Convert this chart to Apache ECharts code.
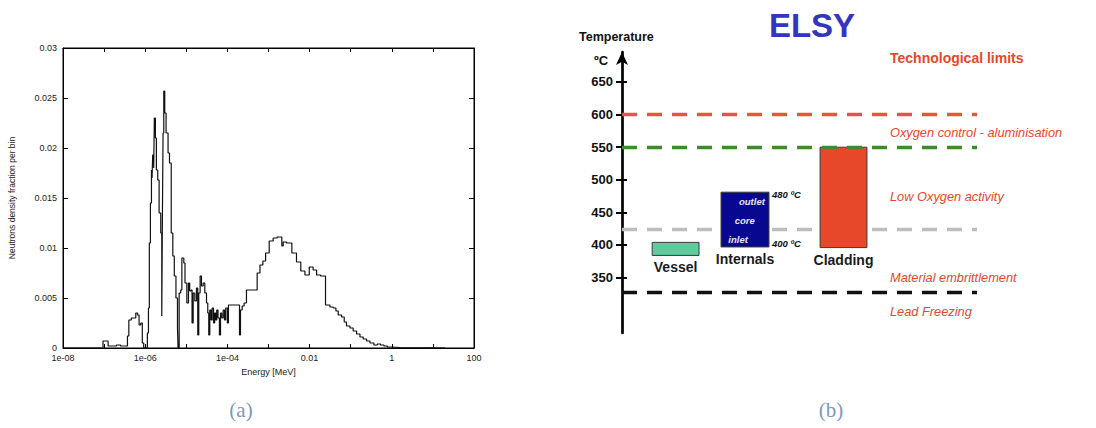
<!DOCTYPE html>
<html>
<head>
<meta charset="utf-8">
<script src="https://cdn.jsdelivr.net/npm/echarts@6/dist/echarts.min.js"></script>
<style>
html,body{margin:0;padding:0;background:#fff;}
#chart{width:1096px;height:428px;}
</style>
</head>
<body>
<div id="chart"></div>
<script>
// ---------- Panel (a): neutron spectrum (step histogram) ----------
const energyMeV = [1e-8, 9.4e-8, 1.25e-7, 2.0e-7, 2.5e-7, 3.7e-7, 4.0e-7, 4.6e-7, 5.9e-7, 6.5e-7, 7.1e-7, 7.8e-7, 8.5e-7, 9.2e-7,
  1.13e-6, 1.2e-6, 1.26e-6, 1.34e-6, 1.42e-6, 1.47e-6, 1.52e-6, 1.61e-6, 1.67e-6, 1.77e-6, 1.87e-6, 2.02e-6, 2.18e-6, 2.39e-6, 2.53e-6, 2.63e-6,
  2.72e-6, 2.83e-6, 2.99e-6, 3.22e-6, 3.6e-6, 3.9e-6, 4.3e-6, 4.7e-6, 5.1e-6, 5.6e-6, 6.1e-6, 6.3e-6, 6.7e-6, 7.3e-6, 7.8e-6, 8.7e-6, 9.3e-6,
  1.03e-5, 1.13e-5, 1.21e-5, 1.31e-5, 1.38e-5, 1.47e-5, 1.61e-5, 1.77e-5, 1.9e-5, 2.01e-5, 2.17e-5, 2.34e-5, 2.57e-5, 2.82e-5, 3.1e-5, 3.33e-5,
  3.52e-5, 3.73e-5, 4.0e-5, 4.25e-5, 4.6e-5, 4.9e-5, 5.2e-5, 5.5e-5, 5.9e-5, 6.4e-5, 6.8e-5, 7.3e-5, 7.9e-5, 8.5e-5, 9.1e-5, 1.0e-4, 1.06e-4,
  1.38e-4, 1.86e-4, 1.97e-4, 2.08e-4, 2.29e-4, 2.55e-4, 2.91e-4, 3.86e-4, 5.3e-4, 6.2e-4, 7.3e-4, 8.5e-4, 1.04e-3, 1.3e-3, 1.63e-3, 2.11e-3,
  2.28e-3, 2.74e-3, 3.7e-3, 4.8e-3, 6.1e-3, 7.7e-3, 9.8e-3, 1.22e-2, 1.48e-2, 1.85e-2, 2.44e-2, 3.12e-2, 3.76e-2, 4.37e-2, 4.97e-2, 6.0e-2,
  6.96e-2, 7.9e-2, 9.6e-2, 0.115, 0.139, 0.168, 0.202, 0.243, 0.294, 0.367, 0.443, 0.533, 0.643, 0.776, 0.99, 1.58, 10, 20];
const densityFraction = [0, 0.0007, 0.0002, 0.0003, 0.0002, 0.0012, 0.0028, 0.003, 0.0035, 0.0033, 0.0023, 0.0025, 0.0005, 0,
  0.0015, 0.004, 0.0105, 0.0145, 0.0178, 0.017, 0.0193, 0.018, 0.023, 0.021, 0.0178, 0.0168, 0.0135, 0.0115, 0.0032, 0.0138,
  0.0215, 0.0257, 0.0235, 0.0215, 0.0195, 0.0185, 0.0115, 0.0092, 0.0072, 0.005, 0.002, 0, 0.0055, 0.0058, 0.009, 0.0085, 0.0065,
  0.0045, 0.0065, 0.0057, 0.0058, 0.0025, 0.0055, 0.0047, 0.006, 0.0013, 0.0055, 0.0072, 0.0062, 0.0065, 0.0055, 0.0045, 0.0035,
  0.0013, 0.0038, 0.0028, 0.004, 0.0025, 0.0035, 0.0028, 0.0038, 0.003, 0.0013, 0.0035, 0.003, 0.0038, 0.0028, 0.004, 0.0025, 0.0043,
  0.0043, 0.0043, 0.0013, 0.0038, 0.0042, 0.0045, 0.0058, 0.0058, 0.0075, 0.0083, 0.0087, 0.0095, 0.0107, 0.011, 0.0111, 0.0102,
  0.0106, 0.0105, 0.0095, 0.0086, 0.0077, 0.0073, 0.0081, 0.0078, 0.0073, 0.0072, 0.0043, 0.0041, 0.004, 0.0037, 0.0033, 0.0031,
  0.0026, 0.0022, 0.002, 0.0017, 0.0014, 0.0011, 0.0009, 0.0007, 0.0005, 0.0003, 0.0004, 0.0003, 0.0002, 0.0001, 0.00005, 0.00002, 0, 0];
const xTickExp = [-8, -6, -4, -2, 0, 2];
const xTickText = ['1e-08', '1e-06', '1e-04', '0.01', '1', '100'];
const yTickText = ['0', '0.005', '0.01', '0.015', '0.02', '0.025', '0.03'];

// ---------- Panel (b): ELSY temperature diagram ----------
const components = ['Vessel', 'Internals', 'Cladding'];
const tempLow = [384, 397, 396];
const tempHigh = [404, 481, 550];
const internalsTags = ['outlet', 'core', 'inlet'];
const internalsRangeText = ['480 ºC', '400 ºC'];
const limitTemps = [600, 550, 424, 328];
const tempTicks = [350, 400, 450, 500, 550, 600, 650];
const limitTexts = ['Technological limits', 'Oxygen control - aluminisation', 'Low Oxygen activity', 'Material embrittlement', 'Lead Freezing'];

// ---------- layout / style ----------
const barColors = ['#5ecb9c', '#07078f', '#e8482a'];
const barXStart = [0.85, 2.79, 5.58];
const barXEnd = [2.17, 4.14, 6.9];
const limitColors = ['#e8553a', '#3f8a2c', '#bdbdbd', '#111111'];
const tagTemps = [466, 438, 409];
const tagX = [3.66, 3.46, 3.27];
const limitTextY = [58, 132, 196, 277, 311];

const chart = echarts.init(document.getElementById('chart'), null, {renderer: 'svg'});

// Grid B geometry (temperature axis extent drawn as in the picture)
const gB = {left: 622, right: 119, top: 52, bottom: 95};
const tMin = 265, tMax = 696;
const hB = 428 - gB.top - gB.bottom;
const py = t => gB.top + (tMax - t) / (tMax - tMin) * hB;
const gT = {left: 622, right: 119, top: py(650), height: py(350) - py(650)};
const gA = {left: 63, top: 48, width: 411, height: 300};

const lineData = energyMeV.map((e, i) => [e, densityFraction[i]]);
const fa = 'Liberation Sans, Arial, sans-serif';

function xLabel(v) {
  const k = xTickExp.indexOf(Math.round(v));
  return k >= 0 ? xTickText[k] : '';
}
const decadeTickAxis = (grid, pos, labels) => ({
  type: 'value', gridIndex: grid, min: xTickExp[0], max: xTickExp[xTickExp.length - 1], interval: 1, position: pos,
  axisLine: {show: true, onZero: false, lineStyle: {color: '#000', width: 1}},
  axisTick: {show: true, inside: true, length: 4, lineStyle: {color: '#000'}},
  splitLine: {show: false},
  axisLabel: labels ? {formatter: xLabel, color: '#222', fontSize: 9, fontFamily: fa, margin: 5} : {show: false}
});
const dashStyle = k => ({color: limitColors[k], width: 3.3, type: [15, 10]});

const option = {
  animation: false,
  grid: [
    Object.assign({show: true, borderColor: '#000', borderWidth: 1}, gA),
    {left: gB.left, right: gB.right, top: gB.top, bottom: gB.bottom},
    {left: gT.left, right: gT.right, top: gT.top, height: gT.height},
    Object.assign({}, gA)
  ],
  xAxis: [
    // data axis: logarithmic energy scale
    {type: 'log', logBase: 10, gridIndex: 0, min: 1e-8, max: 100, position: 'top',
     axisLine: {show: false, onZero: false}, axisTick: {show: false}, axisLabel: {show: false}, splitLine: {show: false}},
    // decade ticks & labels (exponent of the same scale)
    Object.assign(decadeTickAxis(0, 'bottom', true), {
      name: 'Energy [MeV]', nameLocation: 'middle', nameGap: 19, nameTextStyle: {color: '#222', fontSize: 9, fontFamily: fa}}),
    {type: 'value', gridIndex: 1, min: 0, max: 10, show: false},
    {type: 'value', gridIndex: 2, min: 0, max: 10, show: false},
    decadeTickAxis(3, 'top', false)
  ],
  yAxis: [
    {type: 'value', gridIndex: 0, min: 0, max: 0.03, interval: 0.005, position: 'left',
     axisLine: {show: true, onZero: false, lineStyle: {color: '#000', width: 1}},
     axisTick: {show: true, inside: true, length: 5, lineStyle: {color: '#000'}},
     splitLine: {show: false},
     axisLabel: {formatter: v => yTickText[Math.round(v / 0.005)], color: '#222', fontSize: 9, fontFamily: fa, margin: 6},
     name: 'Neutrons density fraction per bin', nameLocation: 'middle', nameRotate: 90, nameGap: 47,
     nameTextStyle: {color: '#222', fontSize: 8.5, fontFamily: fa}},
    {type: 'value', gridIndex: 0, min: 0, max: 0.03, interval: 0.005, position: 'right',
     axisLine: {show: true, onZero: false, lineStyle: {color: '#000', width: 1}},
     axisTick: {show: true, inside: true, length: 5, lineStyle: {color: '#000'}},
     splitLine: {show: false}, axisLabel: {show: false}},
    {type: 'value', gridIndex: 1, min: tMin, max: tMax, position: 'left',
     axisLine: {show: true, onZero: false, symbol: ['none', 'arrow'], symbolSize: [9, 13], lineStyle: {color: '#000', width: 2.7}},
     axisTick: {show: false}, axisLabel: {show: false}, splitLine: {show: false}},
    {type: 'value', gridIndex: 2, min: 350, max: 650, interval: 50, position: 'left', offset: -5,
     axisLine: {show: false, onZero: false}, axisTick: {show: true, length: 11, lineStyle: {color: '#000', width: 2}},
     splitLine: {show: false},
     axisLabel: {color: '#111', fontSize: 13, fontWeight: 'bold', fontFamily: fa, margin: 14,
                 formatter: v => (tempTicks.indexOf(v) >= 0 ? String(v) : '')}},
    {type: 'value', gridIndex: 3, min: 0, max: 1, show: false, axisLine: {onZero: false}}
  ],
  series: [
    {type: 'line', xAxisIndex: 0, yAxisIndex: 0, data: lineData, step: 'end', showSymbol: false, symbol: 'none',
     lineStyle: {color: '#111', width: 1.2}, silent: true},
    {type: 'line', xAxisIndex: 2, yAxisIndex: 2, data: [], z: 1, silent: true,
     markLine: {z: 1, silent: true, symbol: ['none', 'none'], label: {show: false}, animation: false,
       data: [2, 3].map(k => ({yAxis: limitTemps[k], lineStyle: dashStyle(k)}))}},
    {type: 'custom', xAxisIndex: 2, yAxisIndex: 2, z: 3, silent: true,
     data: components.map((c, i) => [i, tempLow[i], tempHigh[i]]),
     renderItem: function (params, api) {
       const i = api.value(0);
       const p0 = api.coord([barXStart[i], api.value(2)]);
       const p1 = api.coord([barXEnd[i], api.value(1)]);
       const children = [
         {type: 'rect', shape: {x: p0[0], y: p0[1], width: p1[0] - p0[0], height: p1[1] - p0[1]},
          style: {fill: barColors[i], stroke: '#3a3a3a', lineWidth: 1}},
         {type: 'text', style: {text: components[i], x: (p0[0] + p1[0]) / 2, y: p1[1] + 12, align: 'center', verticalAlign: 'middle',
          textAlign: 'center', textVerticalAlign: 'middle', fill: '#1a1a1a', fontSize: 14, fontWeight: 'bold', fontFamily: fa}}
       ];
       if (i === 1) {
         internalsTags.forEach((t, k) => {
           const p = api.coord([tagX[k], tagTemps[k]]);
           children.push({type: 'text', style: {text: t, x: p[0], y: p[1], align: 'center', verticalAlign: 'middle',
             textAlign: 'center', textVerticalAlign: 'middle', fill: '#e6e6ff', fontSize: 9.5, fontWeight: 'bold', fontStyle: 'italic', fontFamily: fa}});
         });
         [api.value(2), api.value(1)].forEach((tv, k) => {
           const p = api.coord([barXEnd[i], tv]);
           children.push({type: 'text', style: {text: internalsRangeText[k], x: p[0] + 3, y: p[1] + (k === 0 ? 2 : -3), align: 'left', verticalAlign: 'middle',
             textAlign: 'left', textVerticalAlign: 'middle', fill: '#111', fontSize: 9.5, fontWeight: 'bold', fontStyle: 'italic', fontFamily: fa}});
         });
       }
       return {type: 'group', children: children};
     }},
    {type: 'line', xAxisIndex: 2, yAxisIndex: 2, data: [], z: 6, silent: true,
     markLine: {z: 6, silent: true, symbol: ['none', 'none'], label: {show: false}, animation: false,
       data: [0, 1].map(k => ({yAxis: limitTemps[k], lineStyle: dashStyle(k)}))}}
  ],
  graphic: [
    {type: 'text', x: 812, y: 25, style: {text: 'ELSY', align: 'center', verticalAlign: 'middle', textAlign: 'center', textVerticalAlign: 'middle',
      fill: '#3434c2', fontSize: 33, fontWeight: 'bold', fontFamily: fa}},
    {type: 'text', x: 579, y: 37, style: {text: 'Temperature', align: 'left', verticalAlign: 'middle', textAlign: 'left', textVerticalAlign: 'middle',
      fill: '#111', fontSize: 12.5, fontWeight: 'bold', fontFamily: fa}},
    {type: 'text', x: 594, y: 60, style: {text: 'ºC', align: 'left', verticalAlign: 'middle', textAlign: 'left', textVerticalAlign: 'middle',
      fill: '#111', fontSize: 13, fontWeight: 'bold', fontFamily: fa}},
    ...limitTexts.map((t, k) => ({type: 'text', x: 890, y: limitTextY[k], style: {text: t, align: 'left', verticalAlign: 'middle',
      textAlign: 'left', textVerticalAlign: 'middle', fill: '#e8472b', fontSize: k === 0 ? 14 : 12.8,
      fontWeight: k === 0 ? 'bold' : 'normal', fontStyle: k === 0 ? 'normal' : 'italic', fontFamily: fa}})),
    {type: 'text', x: 241, y: 410, style: {text: '(a)', align: 'center', verticalAlign: 'middle', textAlign: 'center', textVerticalAlign: 'middle',
      fill: '#7d98bb', fontSize: 21, fontFamily: 'Liberation Serif, DejaVu Serif, serif'}},
    {type: 'text', x: 831, y: 410, style: {text: '(b)', align: 'center', verticalAlign: 'middle', textAlign: 'center', textVerticalAlign: 'middle',
      fill: '#7d98bb', fontSize: 21, fontFamily: 'Liberation Serif, DejaVu Serif, serif'}}
  ]
};
chart.setOption(option);
</script>
</body>
</html>
